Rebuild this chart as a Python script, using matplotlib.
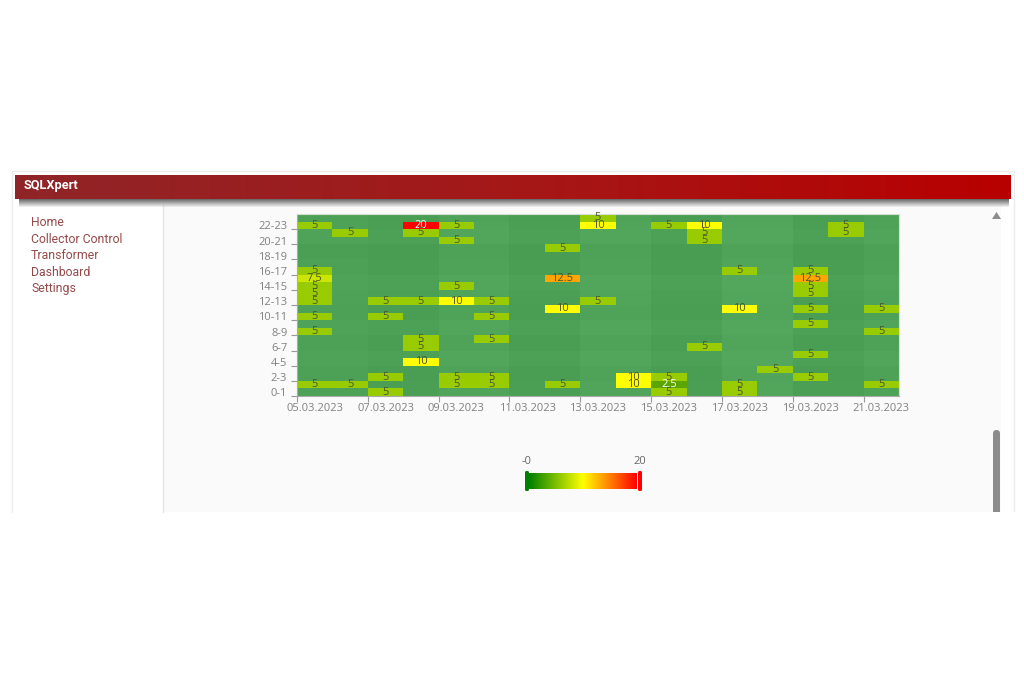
import matplotlib
matplotlib.use("Agg")
import matplotlib.pyplot as plt
import numpy as np
from matplotlib.colors import LinearSegmentedColormap, Normalize
from matplotlib.patches import Rectangle, FancyBboxPatch, Polygon

plt.rcParams['font.family'] = ['Open Sans', 'DejaVu Sans']

days = ["05.03.2023", "06.03.2023", "07.03.2023", "08.03.2023", "09.03.2023", "10.03.2023",
        "11.03.2023", "12.03.2023", "13.03.2023", "14.03.2023", "15.03.2023", "16.03.2023",
        "17.03.2023", "18.03.2023", "19.03.2023", "20.03.2023", "21.03.2023"]
hours = ["0-1", "1-2", "2-3", "3-4", "4-5", "5-6", "6-7", "7-8", "8-9", "9-10", "10-11", "11-12",
         "12-13", "13-14", "14-15", "15-16", "16-17", "17-18", "18-19", "19-20", "20-21", "21-22",
         "22-23", "23-24"]

# non empty cells only, one list per column of the table
cell_day = [0, 0, 0, 0, 0, 0, 0, 0, 0,
            1, 1,
            2, 2, 2, 2,
            3, 3, 3, 3, 3, 3,
            4, 4, 4, 4, 4, 4,
            5, 5, 5, 5, 5,
            7, 7, 7, 7,
            8, 8, 8,
            9, 9,
            10, 10, 10, 10,
            11, 11, 11, 11,
            12, 12, 12, 12,
            13,
            14, 14, 14, 14, 14, 14, 14, 14,
            15, 15,
            16, 16, 16]
cell_hour = [22, 16, 15, 14, 13, 12, 10, 8, 1,
             21, 1,
             12, 10, 2, 0,
             22, 21, 12, 7, 6, 4,
             22, 20, 14, 12, 2, 1,
             12, 10, 7, 2, 1,
             19, 15, 11, 1,
             23, 22, 12,
             2, 1,
             22, 2, 1, 0,
             22, 21, 20, 6,
             16, 11, 1, 0,
             3,
             16, 15, 14, 13, 11, 9, 5, 2,
             22, 21,
             11, 8, 1]
cell_value = [5, 5, 7.5, 5, 5, 5, 5, 5, 5,
              5, 5,
              5, 5, 5, 5,
              20, 5, 5, 5, 5, 10,
              5, 5, 5, 10, 5, 5,
              5, 5, 5, 5, 5,
              5, 12.5, 10, 5,
              5, 10, 5,
              10, 10,
              5, 5, 2.5, 5,
              10, 5, 5, 5,
              5, 10, 5, 5,
              5,
              5, 12.5, 5, 5, 5, 5, 5, 5,
              5, 5,
              5, 5, 5]

# faint banding of the empty cells
day_shade = [0.00, 0.00, -0.01, -0.01, 0.01, 0.01, -0.01, -0.01, 0.01, 0.01, -0.01, -0.01,
             0.015, 0.015, -0.01, -0.01, 0.005]
hour_shade = [0.00, 0.00, -0.005, -0.005, 0.005, 0.005, -0.005, -0.005, 0.005, 0.005, -0.005, -0.005,
              0.00, 0.00, 0.005, 0.005, -0.005, -0.005, -0.01, -0.01, 0.005, 0.005, 0.00, -0.005]

color_stops = [(0, "#008000"), (2.5 / 20, "#5aa500"), (0.25, "#99cc00"), (0.375, "#cce600"),
               (0.5, "#ffff00"), (0.625, "#ffa500"), (1, "#ff0000")]
heat_cmap = LinearSegmentedColormap.from_list("heat", color_stops)
legend_cmap = LinearSegmentedColormap.from_list("legend", ["#008000", "#ffff00", "#ff0000"])

fig = plt.figure(figsize=(10.24, 6.83), dpi=100, facecolor="white")

# page chrome, in pixel coordinates
bg = fig.add_axes([0, 0, 1, 1], zorder=0)
bg.set_xlim(0, 1024)
bg.set_ylim(683, 0)
bg.axis("off")
bg.add_patch(Rectangle((163, 205), 838, 307, fc="#fafafa", ec="none"))
bg.plot([11.5, 11.5, 1013.5, 1013.5], [512, 170.5, 170.5, 512], color="#ececec", lw=1)
bg.plot([162.5, 162.5], [205, 512], color="#e6e6e6", lw=1)

# header shadow and bar
shadow = np.zeros((10, 1, 4))
shadow[:, 0, 3] = np.linspace(0.65, 0, 10)
bg.imshow(shadow, extent=(19, 1009, 208, 198), aspect="auto", interpolation="bilinear", zorder=2)
header = LinearSegmentedColormap.from_list("header", ["#8f2528", "#a51818", "#b80000"])
bg.imshow(np.linspace(0, 1, 256)[None, :], cmap=header, extent=(15, 1011, 199, 175),
          aspect="auto", zorder=3)
bg.set_xlim(0, 1024)
bg.set_ylim(683, 0)
bg.text(24, 186, "SQLXpert", color="white", fontsize=9.2, fontweight="bold",
        family="Roboto", va="center", zorder=4)

menu = ["Home", "Collector Control", "Transformer", "Dashboard", "Settings"]
for i, item in enumerate(menu):
    bg.text(31, 222.5 + i * 16.6, item, color="#954a4a", fontsize=8.8, family="Roboto", va="center")

# scrollbar
bg.add_patch(Polygon([(992, 219), (1001, 219), (996.5, 212)], fc="#8c8c8c", ec="none"))
bg.add_patch(FancyBboxPatch((993, 430), 7, 88, boxstyle="round,pad=0,rounding_size=3.5",
                            fc="#8c8c8c", ec="none", mutation_aspect=1))
bg.add_patch(Rectangle((985, 512), 39, 10, fc="white", ec="none", zorder=5))

# value legend
bg.imshow(np.linspace(0, 1, 256)[None, :], cmap=legend_cmap, extent=(529, 637, 489, 473),
          aspect="auto", zorder=3)
bg.set_xlim(0, 1024)
bg.set_ylim(683, 0)
for x, col in [(527, "#008000"), (640, "#ff0000")]:
    bg.add_patch(FancyBboxPatch((x - 2, 471), 4, 20, boxstyle="round,pad=0,rounding_size=1.5",
                                fc=col, ec="none", zorder=4))
bg.text(527, 461, "-0", color="#666666", fontsize=8, ha="center", va="center")
bg.text(640, 461, "20", color="#666666", fontsize=8, ha="center", va="center")

# heatmap
left, right, top, bottom = 297, 899, 214, 396
ax = fig.add_axes([left / 1024, 1 - bottom / 683, (right - left) / 1024, (bottom - top) / 683],
                  zorder=1)
x_edges = np.arange(len(days) + 1)
y_edges = np.arange(len(hours) + 1)

shade = np.add.outer(np.array(hour_shade), np.array(day_shade))
base = np.array([0x4e, 0xa2, 0x58]) / 255
empty = np.clip(base[None, None, :] + shade[:, :, None], 0, 1)
ax.pcolormesh(x_edges, y_edges, empty)

grid = np.full((len(hours), len(days)), np.nan)
for d, h, v in zip(cell_day, cell_hour, cell_value):
    grid[h, d] = v
ax.pcolormesh(x_edges, y_edges, np.ma.masked_invalid(grid), cmap=heat_cmap,
              norm=Normalize(0, 20))

for d, h, v in zip(cell_day, cell_hour, cell_value):
    label_color = "white" if v in (2.5, 20) else "#4d5530"
    ax.text(d + 0.5, h + 0.5, f"{v:g}", color=label_color, fontsize=8,
            ha="center", va="center")

ax.set_xlim(0, len(days))
ax.set_ylim(0, len(hours))
ax.set_xticks(x_edges[::2])
ax.set_xticks(x_edges[:-1][::2] + 0.5, minor=True)
ax.set_xticklabels([])
ax.set_xticklabels(days[::2], minor=True)
ax.set_yticks(y_edges[:-1][::2])
ax.set_yticks(y_edges[:-1][::2] + 0.5, minor=True)
ax.set_yticklabels([])
ax.set_yticklabels(hours[::2], minor=True)
ax.tick_params(which="major", length=4, width=0.8, color="#999999", direction="out")
ax.tick_params(which="minor", length=0, labelsize=8, labelcolor="#808080", pad=7)
ax.tick_params(axis="x", which="minor", pad=5)
for name, spine in ax.spines.items():
    spine.set_color("#aaaaaa" if name in ("left", "bottom") else "#d5dfd5")
    spine.set_linewidth(0.8)

fig.savefig("out.png", dpi=100)
